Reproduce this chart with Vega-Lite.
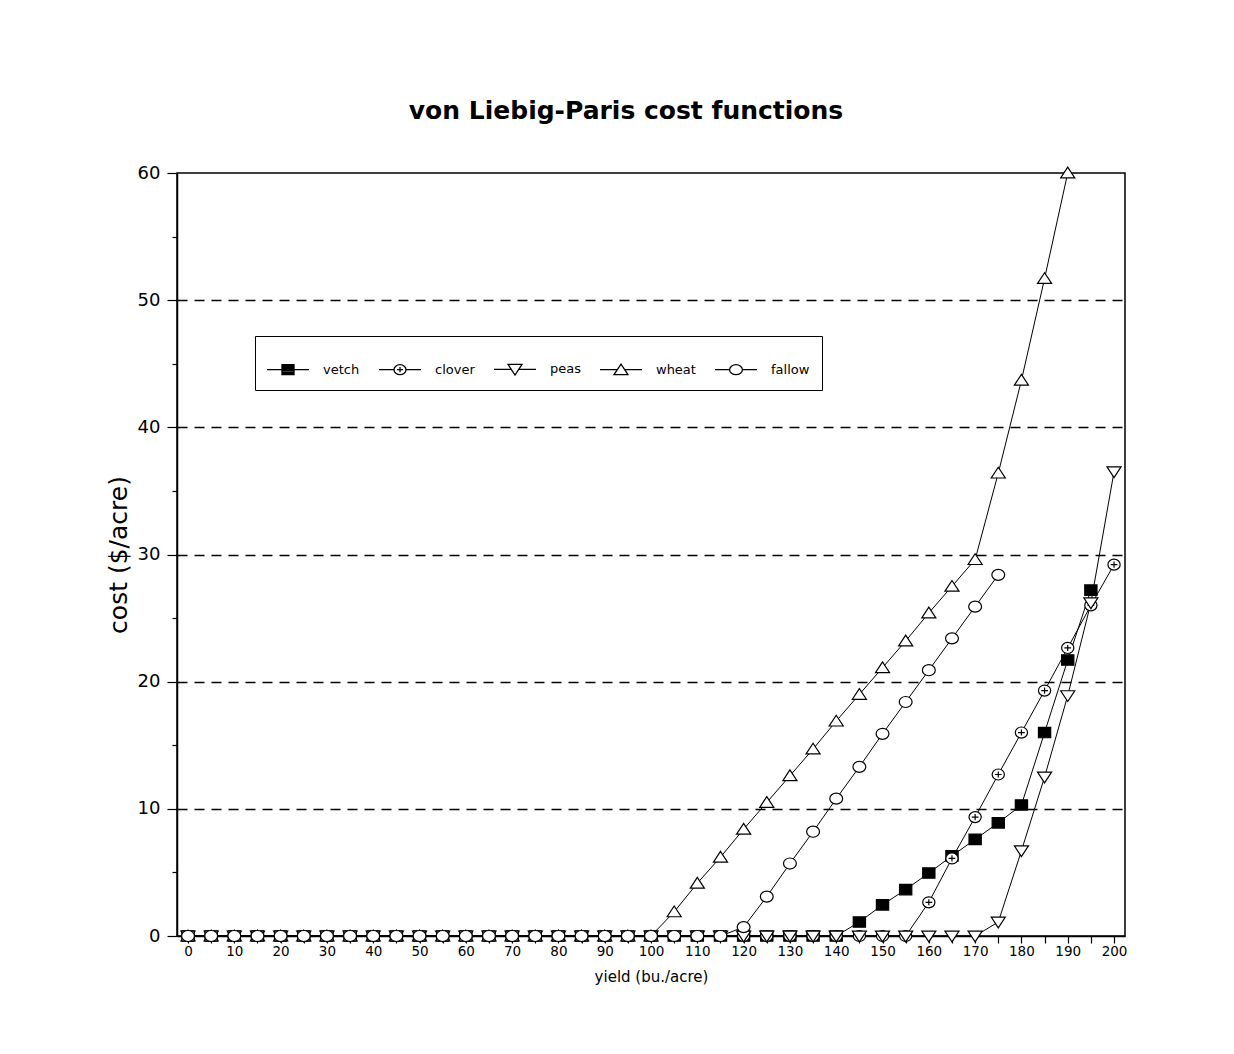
{
  "$schema": "https://vega.github.io/schema/vega-lite/v6.json",
  "autosize": {"type": "none"},
  "padding": {"left": 177, "top": 173, "right": 109, "bottom": 118},
  "width": 948,
  "height": 763,
  "background": "white",
  "config": {
    "view": {"stroke": "black", "strokeWidth": 1.5},
    "font": "DejaVu Sans",
    "axis": {"domainColor": "black", "domainWidth": 1.5, "tickColor": "black", "tickWidth": 1.2, "labelColor": "black", "titleColor": "black", "labelFont": "DejaVu Sans", "titleFont": "DejaVu Sans", "titleFontWeight": "normal"}
  },
  "title": {"text": "von Liebig-Paris cost functions", "font": "DejaVu Sans", "fontSize": 25, "fontWeight": "bold", "color": "black", "anchor": "middle", "frame": "group", "dx": -25, "offset": 40},
  "data": {
    "values": [
      {"yield": 0, "vetch": 0, "clover": 0, "peas": 0, "wheat": 0, "fallow": 0},
      {"yield": 5, "vetch": 0, "clover": 0, "peas": 0, "wheat": 0, "fallow": 0},
      {"yield": 10, "vetch": 0, "clover": 0, "peas": 0, "wheat": 0, "fallow": 0},
      {"yield": 15, "vetch": 0, "clover": 0, "peas": 0, "wheat": 0, "fallow": 0},
      {"yield": 20, "vetch": 0, "clover": 0, "peas": 0, "wheat": 0, "fallow": 0},
      {"yield": 25, "vetch": 0, "clover": 0, "peas": 0, "wheat": 0, "fallow": 0},
      {"yield": 30, "vetch": 0, "clover": 0, "peas": 0, "wheat": 0, "fallow": 0},
      {"yield": 35, "vetch": 0, "clover": 0, "peas": 0, "wheat": 0, "fallow": 0},
      {"yield": 40, "vetch": 0, "clover": 0, "peas": 0, "wheat": 0, "fallow": 0},
      {"yield": 45, "vetch": 0, "clover": 0, "peas": 0, "wheat": 0, "fallow": 0},
      {"yield": 50, "vetch": 0, "clover": 0, "peas": 0, "wheat": 0, "fallow": 0},
      {"yield": 55, "vetch": 0, "clover": 0, "peas": 0, "wheat": 0, "fallow": 0},
      {"yield": 60, "vetch": 0, "clover": 0, "peas": 0, "wheat": 0, "fallow": 0},
      {"yield": 65, "vetch": 0, "clover": 0, "peas": 0, "wheat": 0, "fallow": 0},
      {"yield": 70, "vetch": 0, "clover": 0, "peas": 0, "wheat": 0, "fallow": 0},
      {"yield": 75, "vetch": 0, "clover": 0, "peas": 0, "wheat": 0, "fallow": 0},
      {"yield": 80, "vetch": 0, "clover": 0, "peas": 0, "wheat": 0, "fallow": 0},
      {"yield": 85, "vetch": 0, "clover": 0, "peas": 0, "wheat": 0, "fallow": 0},
      {"yield": 90, "vetch": 0, "clover": 0, "peas": 0, "wheat": 0, "fallow": 0},
      {"yield": 95, "vetch": 0, "clover": 0, "peas": 0, "wheat": 0, "fallow": 0},
      {"yield": 100, "vetch": 0, "clover": 0, "peas": 0, "wheat": 0, "fallow": 0},
      {"yield": 105, "vetch": 0, "clover": 0, "peas": 0, "wheat": 1.9, "fallow": 0},
      {"yield": 110, "vetch": 0, "clover": 0, "peas": 0, "wheat": 4.15, "fallow": 0},
      {"yield": 115, "vetch": 0, "clover": 0, "peas": 0, "wheat": 6.2, "fallow": 0},
      {"yield": 120, "vetch": 0, "clover": 0, "peas": 0, "wheat": 8.4, "fallow": 0.7},
      {"yield": 125, "vetch": 0, "clover": 0, "peas": 0, "wheat": 10.5, "fallow": 3.1},
      {"yield": 130, "vetch": 0, "clover": 0, "peas": 0, "wheat": 12.6, "fallow": 5.7},
      {"yield": 135, "vetch": 0, "clover": 0, "peas": 0, "wheat": 14.7, "fallow": 8.2},
      {"yield": 140, "vetch": 0, "clover": 0, "peas": 0, "wheat": 16.9, "fallow": 10.8},
      {"yield": 145, "vetch": 1.1, "clover": 0, "peas": 0, "wheat": 19.0, "fallow": 13.3},
      {"yield": 150, "vetch": 2.45, "clover": 0, "peas": 0, "wheat": 21.1, "fallow": 15.9},
      {"yield": 155, "vetch": 3.65, "clover": 0, "peas": 0, "wheat": 23.2, "fallow": 18.4},
      {"yield": 160, "vetch": 4.95, "clover": 2.65, "peas": 0, "wheat": 25.4, "fallow": 20.9},
      {"yield": 165, "vetch": 6.3, "clover": 6.1, "peas": 0, "wheat": 27.5, "fallow": 23.4},
      {"yield": 170, "vetch": 7.6, "clover": 9.35, "peas": 0, "wheat": 29.6, "fallow": 25.9},
      {"yield": 175, "vetch": 8.9, "clover": 12.7, "peas": 1.1, "wheat": 36.4, "fallow": 28.4},
      {"yield": 180, "vetch": 10.3, "clover": 16.0, "peas": 6.7, "wheat": 43.7, "fallow": null},
      {"yield": 185, "vetch": 16.0, "clover": 19.3, "peas": 12.5, "wheat": 51.7, "fallow": null},
      {"yield": 190, "vetch": 21.7, "clover": 22.65, "peas": 18.9, "wheat": 60.0, "fallow": null},
      {"yield": 195, "vetch": 27.2, "clover": 26.0, "peas": 26.2, "wheat": null, "fallow": null},
      {"yield": 200, "vetch": null, "clover": 29.2, "peas": 36.5, "wheat": null, "fallow": null}
    ]
  },
  "transform": [
    {"fold": ["vetch", "clover", "peas", "wheat", "fallow"], "as": ["crop", "cost"]},
    {"filter": "isValid(datum.cost)"}
  ],
  "encoding": {
    "x": {
      "field": "yield", "type": "quantitative",
      "scale": {"domain": [-2.38, 202.37], "nice": false, "zero": false},
      "axis": {
        "title": "yield (bu./acre)", "titleFontSize": 15, "titlePadding": 12,
        "values": [0,5,10,15,20,25,30,35,40,45,50,55,60,65,70,75,80,85,90,95,100,105,110,115,120,125,130,135,140,145,150,155,160,165,170,175,180,185,190,195,200],
        "labelExpr": "datum.value % 10 === 0 ? datum.label : ''",
        "labelFontSize": 13.5, "labelPadding": 1, "tickSize": 7, "grid": false, "labelOverlap": false
      }
    },
    "y": {
      "field": "cost", "type": "quantitative",
      "scale": {"domain": [0, 60], "nice": false},
      "axis": {
        "title": "cost ($/acre)", "titleFontSize": 25, "titlePadding": 6,
        "values": [0,5,10,15,20,25,30,35,40,45,50,55,60],
        "labelExpr": "datum.value % 10 === 0 ? datum.label : ''",
        "labelFontSize": 18, "labelPadding": 7,
        "tickSize": {"condition": {"test": "datum.value % 10 === 0", "value": 10}, "value": 5},
        "grid": true, "gridColor": "black", "gridWidth": 1.6, "gridDash": [10, 7],
        "gridOpacity": {"condition": {"test": "datum.value % 10 === 0 && datum.value > 0 && datum.value < 60", "value": 1}, "value": 0}
      }
    }
  },
  "layer": [
    {
      "mark": {"type": "line", "color": "black", "strokeWidth": 1},
      "encoding": {"detail": {"field": "crop", "type": "nominal"}}
    },
    {
      "mark": {"type": "point", "filled": false, "stroke": "black", "strokeWidth": 1.2, "size": 150, "opacity": 1},
      "encoding": {
        "shape": {
          "field": "crop", "type": "nominal",
          "scale": {
            "domain": ["vetch", "clover", "peas", "wheat", "fallow"],
            "range": [
              "M-1,-0.85H1V0.85H-1Z",
              "M1,0A1,0.9 0 1,1 -1,0A1,0.9 0 1,1 1,0ZM-0.55,0H0.55M0,-0.5V0.5",
              "M-1.15,-0.8H1.15L0,0.95Z",
              "M-1.15,0.8H1.15L0,-0.95Z",
              "M1.05,0A1.05,0.9 0 1,1 -1.05,0A1.05,0.9 0 1,1 1.05,0Z"
            ]
          },
          "legend": null
        },
        "fill": {
          "field": "crop", "type": "nominal",
          "scale": {"domain": ["vetch", "clover", "peas", "wheat", "fallow"], "range": ["black", "white", "white", "white", "white"]},
          "legend": null
        }
      }
    },
    {
      "mark": {"type": "point", "filled": false, "stroke": "black", "strokeWidth": 1.3, "size": 150, "opacity": 0},
      "encoding": {
        "shape": {
          "field": "crop", "type": "nominal",
          "scale": {
            "domain": ["vetch", "clover", "peas", "wheat", "fallow"],
            "range": [
              "M-1.05,0H1.05M-0.3,-0.25H0.3V0.25H-0.3ZM-0.3,-0.19H0.3M-0.3,-0.13H0.3M-0.3,-0.06H0.3M-0.3,0.06H0.3M-0.3,0.13H0.3M-0.3,0.19H0.3",
              "M-1.05,0H-0.3M0.3,0H1.05M0.3,0A0.3,0.25 0 1,1 -0.3,0A0.3,0.25 0 1,1 0.3,0ZM-0.15,0H0.15M0,-0.13V0.13",
              "M-1.05,0H-0.19M0.19,0H1.05M-0.35,-0.25H0.35L0,0.28Z",
              "M-1.05,0H-0.19M0.19,0H1.05M-0.35,0.25H0.35L0,-0.28Z",
              "M-1.05,0H-0.32M0.32,0H1.05M0.32,0A0.32,0.25 0 1,1 -0.32,0A0.32,0.25 0 1,1 0.32,0Z"
            ]
          },
          "legend": {
            "orient": "none", "legendX": 78, "legendY": 163, "direction": "horizontal", "title": null,
            "symbolSize": 1600, "labelOffset": 14, "columnPadding": 16, "padding": 12,
            "strokeColor": "black", "fillColor": "white",
            "symbolStrokeColor": "black", "symbolStrokeWidth": 1.3, "symbolFillColor": "white", "symbolOpacity": 1,
            "labelFont": "DejaVu Sans", "labelFontSize": 13, "labelColor": "black",
            "encode": {
              "symbols": {"update": {"opacity": {"value": 1}, "stroke": {"value": "black"}, "strokeWidth": {"value": 1.3}}},
              "legend": {"update": {"strokeWidth": {"value": 1.5}}}
            }
          }
        }
      }
    }
  ],
  "resolve": {"scale": {"shape": "independent"}}
}
